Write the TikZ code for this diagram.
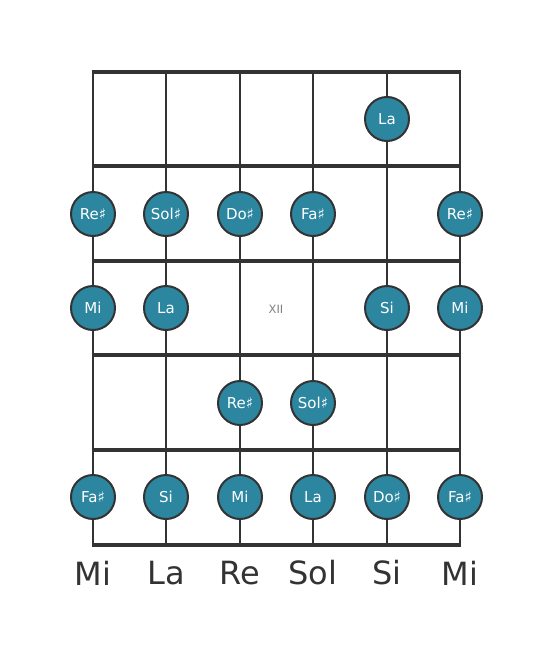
\documentclass[tikz,border=0pt]{standalone}
\usepackage{fontspec}
\setmainfont{DejaVu Sans}
\definecolor{dark}{RGB}{51,51,51}
\definecolor{teal}{RGB}{45,134,160}
\begin{document}
\begin{tikzpicture}[x=1pt,y=-1pt,
  fret/.style={draw=dark,line width=4.8pt,shorten <=-1.3pt,shorten >=-1.3pt},
  strg/.style={draw=dark,line width=2.6pt},
  note/.style={circle,fill=teal,draw=dark,line width=2pt,minimum size=44pt,inner sep=0pt,text=white,font=\fontsize{15}{15}\selectfont},
  base/.style={text=dark,font=\fontsize{32}{32}\selectfont},
  fretno/.style={text=gray,font=\fontsize{11.5}{11.5}\selectfont}]
\useasboundingbox (0,0) rectangle (553,656);
% strings
\foreach \x/\n in {93/1,166/2,240/3,313/4,387/5,460/6}{
  \coordinate (t\n) at (\x,72);
  \coordinate (b\n) at (\x,545);
  \draw[strg] (t\n) -- (b\n);
}
% frets
\foreach \y/\n in {72/0,166/1,261/2,355/3,450/4,545/5}{
  \coordinate (fl\n) at (93,\y);
  \coordinate (fr\n) at (460,\y);
  \draw[fret] (fl\n) -- (fr\n);
}
% notes
\node[note] (n15) at (387,119) {La};
\node[note] (n21) at (93,214) {Re♯};
\node[note] (n22) at (166,214) {Sol♯};
\node[note] (n23) at (240,214) {Do♯};
\node[note] (n24) at (313,214) {Fa♯};
\node[note] (n26) at (460,214) {Re♯};
\node[note] (n31) at (93,308) {Mi};
\node[note] (n32) at (166,308) {La};
\node[fretno] (xii) at (276,309) {XII};
\node[note] (n35) at (387,308) {Si};
\node[note] (n36) at (460,308) {Mi};
\node[note] (n43) at (240,403) {Re♯};
\node[note] (n44) at (313,403) {Sol♯};
\node[note] (n51) at (93,497) {Fa♯};
\node[note] (n52) at (166,497) {Si};
\node[note] (n53) at (240,497) {Mi};
\node[note] (n54) at (313,497) {La};
\node[note] (n55) at (387,497) {Do♯};
\node[note] (n56) at (460,497) {Fa♯};
% base labels
\node[base] (l1) at (93,573) {Mi};
\node[base] (l2) at (166,573) {La};
\node[base] (l3) at (240,573) {Re};
\node[base] (l4) at (313,573) {Sol};
\node[base] (l5) at (387,573) {Si};
\node[base] (l6) at (460,573) {Mi};
\end{tikzpicture}
\end{document}
